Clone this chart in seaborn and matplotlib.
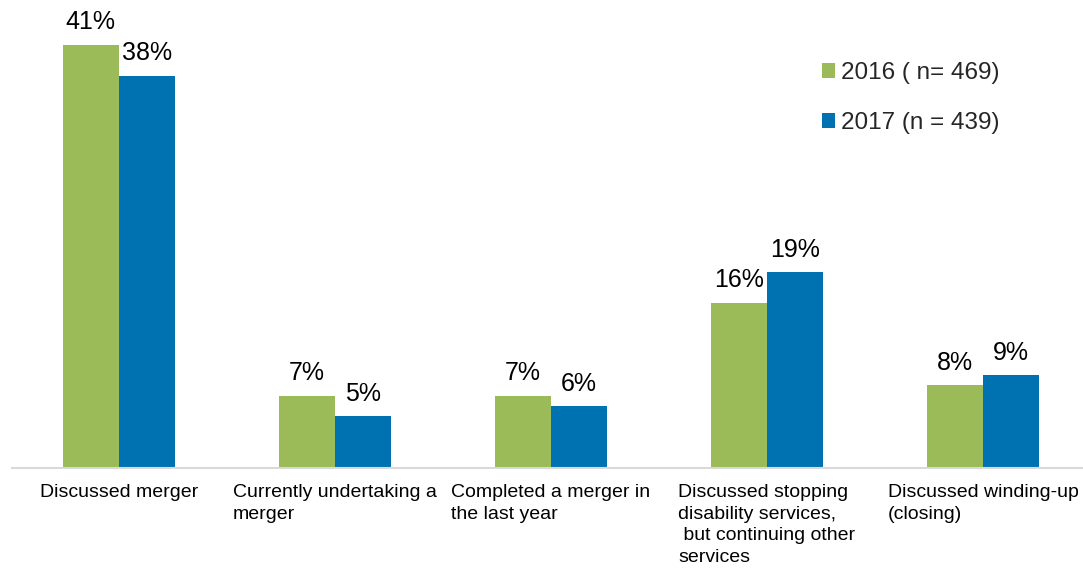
import matplotlib
matplotlib.use("Agg")
import matplotlib.pyplot as plt
import seaborn as sns
import pandas as pd

categories = [
    "Discussed merger",
    "Currently undertaking a\nmerger",
    "Completed a merger in\nthe last year",
    "Discussed stopping\ndisability services,\n but continuing other\nservices",
    "Discussed winding-up\n(closing)",
]
series_names = ["2016 ( n= 469)", "2017 (n = 439)"]
values_2016 = [41, 7, 7, 16, 8]
values_2017 = [38, 5, 6, 19, 9]
colors = ["#9BBB59", "#0072B2"]

df = pd.DataFrame({
    "category": categories * 2,
    "series": [series_names[0]] * len(categories) + [series_names[1]] * len(categories),
    "value": values_2016 + values_2017,
})

sns.set_theme(style="white")
plt.rcParams["font.family"] = ["Liberation Sans", "DejaVu Sans"]

fig = plt.figure(figsize=(10.83, 5.70), dpi=100)
ax = fig.add_axes([12 / 1083, 102 / 570, 1 - 12 / 1083, 468 / 570])

sns.barplot(
    data=df, x="category", y="value", hue="series",
    order=categories, hue_order=series_names,
    palette=colors, width=0.52, gap=0, saturation=1,
    edgecolor="none", linewidth=0, ax=ax,
)

ax.set_xlim(-0.495, 4.463)
ax.set_ylim(0, 45.35)

for container in ax.containers:
    vals = [bar.get_height() for bar in container]
    ax.bar_label(container, labels=[f"{v:.0f}%" for v in vals],
                 padding=7.5, fontsize=18, color="#000000")

ax.set_xlabel("")
ax.set_ylabel("")
ax.set_yticks([])
ax.tick_params(axis="x", length=0, pad=11.5)
ax.set_xticks(range(len(categories)))
ax.set_xticklabels(categories, fontsize=14, color="#000000",
                   ha="center", multialignment="left", linespacing=1.35)

for side in ["top", "right", "left"]:
    ax.spines[side].set_visible(False)
ax.spines["bottom"].set_color("#D9D9D9")
ax.spines["bottom"].set_linewidth(1.5)

handles, labels = ax.get_legend_handles_labels()
ax.legend(
    handles, labels, loc="upper left",
    bbox_to_anchor=(822 / 1083, 1 - 62 / 570), bbox_transform=fig.transFigure,
    frameon=False, fontsize=17.5, borderpad=0, borderaxespad=0,
    handlelength=0.55, handleheight=0.55, handletextpad=0.25,
    labelspacing=1.15,
)

fig.savefig("out.png", dpi=100)
